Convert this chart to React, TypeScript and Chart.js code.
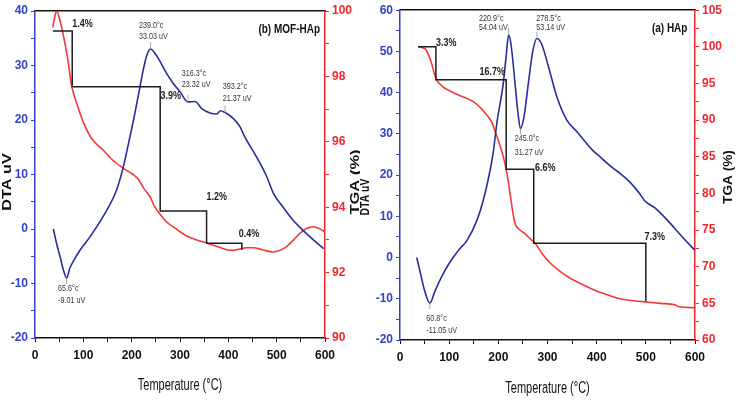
import React, { useEffect, useRef } from "react";
import { Chart, registerables } from "chart.js";

Chart.register(...registerables);

// ---------------- (b) MOF-HAp (left panel) ----------------
const mofDtaTemp = [38, 45, 52, 58, 65.6, 72, 80, 93, 114, 141, 169, 183, 193, 205, 217, 224, 231, 239, 250, 259, 272, 286, 300, 316.3, 331, 345, 362, 376, 384, 393.2, 410, 424, 434, 452, 466, 480, 493, 515, 534, 555, 576, 597];
const mofDtaVal = [0, -2.8, -5.1, -7.3, -9.01, -7.2, -5.8, -3.9, -1.4, 2.3, 7.2, 11.5, 15.5, 20.5, 26, 29.2, 31.8, 33.03, 32.0, 30.7, 28.6, 26.7, 25.2, 23.32, 23.4, 22.1, 21.3, 21.1, 21.7, 21.37, 20.3, 18.8, 16.9, 14.2, 12.0, 9.5, 6.6, 3.8, 1.6, -0.3, -2, -3.6];
const mofTgaTemp = [37, 42, 45, 50, 58, 67, 76, 88, 100, 117, 141, 160, 183, 203, 214, 224, 238, 248, 259, 272, 286, 300, 314, 335, 356, 377, 397, 410, 424, 438, 452, 470, 493, 507, 521, 535, 548, 562, 576, 588, 600];
const mofTgaVal = [99.5, 99.9, 100, 99.8, 99.3, 98.6, 97.7, 97.1, 96.6, 96.1, 95.75, 95.45, 95.19, 95.0, 94.85, 94.6, 94.32, 94.0, 93.78, 93.55, 93.4, 93.25, 93.12, 93.0, 92.9, 92.8, 92.7, 92.68, 92.72, 92.76, 92.76, 92.7, 92.63, 92.68, 92.8, 93.0, 93.2, 93.35, 93.4, 93.35, 93.24];
const mofStepTemp = [37, 77, 77, 259, 259, 355, 355, 428, 428];
const mofStepVal = [99.39, 99.39, 97.68, 97.68, 93.88, 93.88, 92.9, 92.9, 92.7];
const mofPeakTemp = [65.6, 239.0, 316.3, 393.2];
const mofPeakVal = [-9.01, 33.03, 23.32, 21.37];
const mofPeakText = [["65.6°c", "-9.01 uV"], ["239.0°c", "33.03 uV"], ["316.3°c", "23.32 uV"], ["393.2°c", "21.37 uV"]];
const mofLossText = ["1.4%", "3.9%", "1.2%", "0.4%"];

// ---------------- (a) HAp (right panel) ----------------
const hapDtaTemp = [34, 42, 50, 60.8, 70, 80, 88, 98, 108, 122, 136, 156, 169, 183, 190, 197, 210, 216, 220.9, 226, 234, 240, 245, 252, 261, 270, 278.5, 288, 302, 319, 339, 360, 376, 392, 409, 430, 450, 465, 478, 488, 498, 518, 545, 572, 600];
const hapDtaVal = [0, -4, -8, -11.05, -8.5, -5.8, -3.9, -1.8, 0, 2.2, 4.1, 8.9, 13.7, 21, 25.8, 32.6, 42.2, 49, 54.04, 51.5, 42.2, 35, 31.27, 34, 42.2, 50, 53.14, 51.8, 46.3, 39, 33.4, 30.5, 28.2, 26, 24.2, 22, 20.2, 18.6, 16.9, 15.4, 13.7, 12.1, 8.9, 5.3, 1.7];
const hapTgaTemp = [37, 45, 53, 63, 73, 88, 104, 120, 138, 152, 165, 175, 186, 195, 205, 213, 220, 226, 230, 234, 244, 254, 265, 275, 290, 307, 325, 342, 370, 396, 420, 443, 470, 498, 530, 559, 565, 572, 600];
const hapTgaVal = [100, 99.9, 99.6, 98, 95.7, 94.5, 93.9, 93.4, 92.9, 92.4, 91.6, 90.8, 89.8, 88.2, 86.2, 84.2, 81.7, 79, 77.2, 75.9, 75, 74.5, 73.8, 73.2, 71.7, 70.4, 69.4, 68.6, 67.6, 66.8, 66.2, 65.7, 65.4, 65.2, 65.0, 64.8, 64.6, 64.5, 64.4];
const hapStepTemp = [37, 73, 73, 216, 216, 272, 272, 500, 500];
const hapStepVal = [100, 100, 95.5, 95.5, 83.3, 83.3, 73.2, 73.2, 65.3];
const hapPeakTemp = [60.8, 220.9, 245.0, 278.5];
const hapPeakVal = [-11.05, 54.04, 31.27, 53.14];
const hapPeakText = [["60.8°c", "-11.05 uV"], ["220.9°c", "54.04 uV"], ["245.0°c", "31.27 uV"], ["278.5°c", "53.14 uV"]];
const hapLossText = ["3.3%", "16.7%", "6.6%", "7.3%"];

// Shared tick labels
const xTickLabels = [0, 100, 200, 300, 400, 500, 600];

const BLUE = "#2a2d9c";
const BLUE_AX = "#3343c6";
const RED = "#f03a3a";
const RED_AX = "#f0282d";
const FONT = "'Liberation Sans', Arial, Helvetica, sans-serif";

type Spec = {
  dtaT: number[]; dtaV: number[]; tgaT: number[]; tgaV: number[];
  stepT: number[]; stepV: number[];
  peakT: number[]; peakV: number[]; peakText: string[][];
  noteAt: number[][];
  lossText: string[]; lossAt: number[][];
  name: string; nameAt: number[];
  dtaMin: number; dtaMax: number; tgaMin: number; tgaMax: number; tgaStep: number; tgaLabelEvery: number;
  left: number; width: number; leftW: number; rightW: number; topPad: number; xH: number;
  lTitle: { x: number; y: number; s: number }; rTitle: { x: number; y: number; s: number }; xTitleY: number;
};

const zip = (a: number[], b: number[]) => a.map((x, i) => ({ x, y: b[i] }));

function drawText(ctx: CanvasRenderingContext2D, text: string, x: number, y: number, font: string, color: string, align: CanvasTextAlign, sx: number, sy: number, rot = 0) {
  ctx.save();
  ctx.translate(x, y);
  if (rot) ctx.rotate(rot);
  ctx.scale(sx, sy);
  ctx.font = font;
  ctx.fillStyle = color;
  ctx.textAlign = align;
  ctx.textBaseline = "middle";
  ctx.fillText(text, 0, 0);
  ctx.restore();
}

function makeTextPlugin(p: Spec) {
  return {
    id: "panelText",
    afterDraw(chart: any) {
      const ctx: CanvasRenderingContext2D = chart.ctx;
      const xs = chart.scales.x;
      const ys = chart.scales.y;
      const ca = chart.chartArea;
      ctx.save();
      ctx.strokeStyle = "#a8a8a8";
      ctx.lineWidth = 1;
      p.peakT.forEach((t, i) => {
        const x = xs.getPixelForValue(t);
        const y = ys.getPixelForValue(p.peakV[i]);
        const up = p.noteAt[i][1] > p.peakV[i];
        ctx.beginPath();
        ctx.moveTo(x, y);
        ctx.lineTo(x, up ? y - 7 : y + 6);
        ctx.stroke();
      });
      ctx.restore();
      p.peakText.forEach((lines, i) => {
        const [t, v1, v2] = p.noteAt[i];
        const x = xs.getPixelForValue(t);
        drawText(ctx, lines[0], x, ys.getPixelForValue(v1), `8px ${FONT}`, "#333", "left", 0.9, 1.15);
        drawText(ctx, lines[1], x, ys.getPixelForValue(v2), `8px ${FONT}`, "#333", "left", 0.9, 1.15);
      });
      p.lossText.forEach((s, i) => {
        const [t, v] = p.lossAt[i];
        drawText(ctx, s, xs.getPixelForValue(t), ys.getPixelForValue(v), `bold 9px ${FONT}`, "#1a1a1a", "center", 1, 1.3);
      });
      drawText(ctx, p.name, xs.getPixelForValue(p.nameAt[0]), ys.getPixelForValue(p.nameAt[1]), `bold 10px ${FONT}`, "#111", "center", 1, 1.2);
      drawText(ctx, "DTA uV", p.lTitle.x, p.lTitle.y, `bold 13px ${FONT}`, "#111", "center", p.lTitle.s, 1, -Math.PI / 2);
      drawText(ctx, "TGA (%)", p.rTitle.x, p.rTitle.y, `bold 13px ${FONT}`, "#111", "center", p.rTitle.s, 1, -Math.PI / 2);
      drawText(ctx, "Temperature (°C)", (ca.left + ca.right) / 2, p.xTitleY, `11px ${FONT}`, "#111", "center", 1, 1.45);
    },
  };
}

function buildConfig(p: Spec): any {
  const tickFont = { family: FONT, size: 12, weight: "bold" as const };
  return {
    type: "line",
    data: {
      datasets: [
        { label: "steps", data: zip(p.stepT, p.stepV), yAxisID: "yT", xAxisID: "x", borderColor: "#1c1c1c", borderWidth: 1.5, pointRadius: 0, tension: 0, fill: false },
        { label: "DTA", data: zip(p.dtaT, p.dtaV), yAxisID: "y", xAxisID: "x", borderColor: BLUE, borderWidth: 1.6, pointRadius: 0, cubicInterpolationMode: "monotone", fill: false },
        { label: "TGA", data: zip(p.tgaT, p.tgaV), yAxisID: "yT", xAxisID: "x", borderColor: RED, borderWidth: 1.6, pointRadius: 0, cubicInterpolationMode: "monotone", fill: false },
      ],
    },
    options: {
      animation: false,
      responsive: false,
      devicePixelRatio: 1,
      layout: { padding: { top: p.topPad, left: 0, right: 0, bottom: 0 } },
      plugins: { legend: { display: false }, tooltip: { enabled: false } },
      scales: {
        x: {
          type: "linear", position: "bottom", min: 0, max: 600,
          afterFit: (s: any) => { s.height = p.xH; },
          ticks: {
            stepSize: 50, autoSkip: false, maxRotation: 0, color: "#111", font: tickFont, padding: 6,
            callback: (v: number) => (xTickLabels.includes(v) ? String(v) : ""),
          },
          grid: { display: true, drawOnChartArea: false, drawTicks: true, tickLength: 4, color: "#111", lineWidth: 1 },
          border: { display: true, color: "#111", width: 1.5 },
        },
        x2: {
          type: "linear", position: "top", min: 0, max: 600, display: true,
          afterFit: (s: any) => { s.height = 0; },
          ticks: { display: false },
          grid: { display: true, drawOnChartArea: false, drawTicks: false },
          border: { display: true, color: "#111", width: 1.5 },
        },
        y: {
          type: "linear", position: "left", min: p.dtaMin, max: p.dtaMax,
          afterFit: (s: any) => { s.width = p.leftW; },
          ticks: {
            stepSize: 5, autoSkip: false, color: BLUE_AX, font: tickFont, padding: 3,
            callback: (v: number) => (Math.abs(v % 10) < 1e-6 ? String(v) : ""),
          },
          grid: { display: true, drawOnChartArea: false, drawTicks: true, tickLength: 4, color: BLUE_AX, lineWidth: 1 },
          border: { display: true, color: BLUE_AX, width: 1.5 },
        },
        yT: {
          type: "linear", position: "right", min: p.tgaMin, max: p.tgaMax,
          afterFit: (s: any) => { s.width = p.rightW; },
          ticks: {
            stepSize: p.tgaStep, autoSkip: false, color: RED_AX, font: tickFont, padding: 3,
            callback: (v: number) => (Math.abs(v % p.tgaLabelEvery) < 1e-6 ? String(v) : ""),
          },
          grid: { display: true, drawOnChartArea: false, drawTicks: true, tickLength: 4, color: RED_AX, lineWidth: 1 },
          border: { display: true, color: RED_AX, width: 1.5 },
        },
      },
    },
    plugins: [makeTextPlugin(p)],
  };
}

const leftSpec: Spec = {
  dtaT: mofDtaTemp, dtaV: mofDtaVal, tgaT: mofTgaTemp, tgaV: mofTgaVal,
  stepT: mofStepTemp, stepV: mofStepVal,
  peakT: mofPeakTemp, peakV: mofPeakVal, peakText: mofPeakText,
  noteAt: [[47.6, -10.9, -13.1], [215, 37.4, 35.3], [303.5, 28.6, 26.5], [388.3, 26.1, 23.9]],
  lossText: mofLossText, lossAt: [[98.3, 37.6], [281, 24.4], [376, 5.9], [443, -0.8]],
  name: "(b) MOF-HAp", nameAt: [526, 36.6],
  dtaMin: -20, dtaMax: 40, tgaMin: 90, tgaMax: 100, tgaStep: 1, tgaLabelEvery: 2,
  left: 0, width: 360, leftW: 35, rightW: 35, topPad: 11, xH: 63,
  lTitle: { x: 7, y: 182, s: 1.25 }, rTitle: { x: 355, y: 182, s: 1.27 }, xTitleY: 386,
};

const rightSpec: Spec = {
  dtaT: hapDtaTemp, dtaV: hapDtaVal, tgaT: hapTgaTemp, tgaV: hapTgaVal,
  stepT: hapStepTemp, stepV: hapStepVal,
  peakT: hapPeakTemp, peakV: hapPeakVal, peakText: hapPeakText,
  noteAt: [[53.5, -14.8, -17.6], [160.7, 57.9, 55.7], [233.3, 29.0, 25.4], [277.2, 57.9, 55.7]],
  lossText: hapLossText, lossAt: [[94.2, 52], [187.8, 45.1], [295.6, 21.8], [518, 5.1]],
  name: "(a) HAp", nameAt: [548.5, 55.5],
  dtaMin: -20, dtaMax: 60, tgaMin: 60, tgaMax: 105, tgaStep: 2.5, tgaLabelEvery: 5,
  left: 360, width: 378, leftW: 40, rightW: 43, topPad: 8, xH: 61,
  lTitle: { x: 5, y: 197, s: 0.8 }, rTitle: { x: 368, y: 177, s: 1.05 }, xTitleY: 389,
};

function Panel({ spec }: { spec: Spec }) {
  const ref = useRef<HTMLCanvasElement | null>(null);
  useEffect(() => {
    if (!ref.current) return;
    const chart = new Chart(ref.current, buildConfig(spec));
    return () => chart.destroy();
  }, [spec]);
  return (
    <canvas
      ref={ref}
      width={spec.width}
      height={401}
      style={{ position: "absolute", left: spec.left, top: 0, width: spec.width, height: 401 }}
    />
  );
}

export default function App() {
  return (
    <div style={{ position: "absolute", left: 0, top: 0, width: 738, height: 401, background: "#fff", overflow: "hidden" }}>
      <Panel spec={leftSpec} />
      <Panel spec={rightSpec} />
    </div>
  );
}
